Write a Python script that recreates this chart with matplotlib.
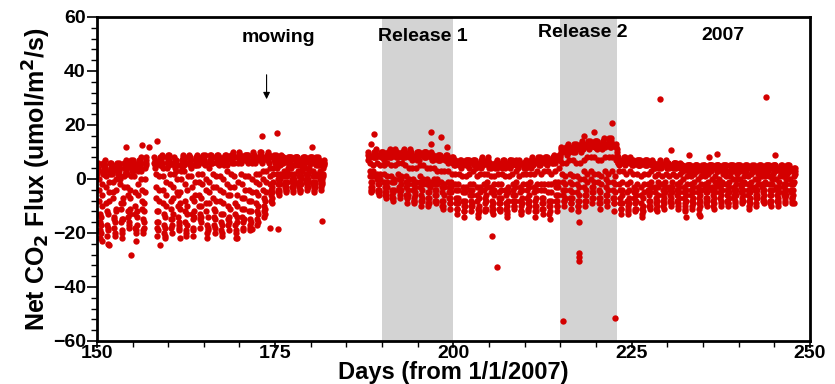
import matplotlib.pyplot as plt
from matplotlib.ticker import MultipleLocator

# hourly samples, hour 0..23 of each day
hours = list(range(24))

# days 150-156
flux_early_june = [
    [3, 5, 2, 4, 6, 3, 0, -4, -8, -13, -16, -19, -22, -20, -17, -14, -10, -6, -2, 2, 5, 3, 6, 4],
    [5, 2, 4, 7, 3, 5, 1, -3, -9, -12, -17, -21, -24, -18, -19, -13, -8, -5, -1, 3, 2, 6, 4, 3],
    [4, 6, 3, 5, 2, 4, -1, -5, -7, -14, -15, -18, -20, -21, -16, -12, -11, -4, 0, 4, 6, 3, 5, 2],
    [2, 4, 6, 3, 5, 1, 0, -2, -9, -11, -16, -20, -19, -22, -15, -15, -9, -7, -3, 1, 4, 6, 2, 5],
    [6, 3, 5, 7, 4, 6, 2, -3, -6, -12, -14, -17, -18, -16, -13, -11, -7, -4, 1, 5, 7, 4, 6, 3],
    [4, 7, 5, 3, 6, 4, 1, -5, -10, -13, -18, -20, -23, -19, -17, -14, -12, -6, -2, 3, 5, 7, 4, 6],
    [7, 5, 4, 6, 8, 3, 0, -4, -8, -11, -15, -19, -20, -18, -16, -12, -9, -5, 0, 4, 6, 8, 5, 7],
]

# days 158-181 (mowing on day 174)
flux_late_june = [
    [6, 8, 5, 7, 4, 6, 2, -3, -7, -12, -16, -18, -21, -19, -16, -12, -8, -4, 1, 5, 7, 6, 8, 5],
    [5, 7, 9, 6, 8, 4, 1, -4, -9, -13, -17, -20, -22, -21, -18, -14, -10, -6, -1, 4, 6, 8, 7, 9],
    [8, 6, 7, 5, 9, 6, 2, -2, -8, -11, -15, -18, -20, -17, -15, -13, -7, -3, 2, 6, 8, 5, 7, 6],
    [4, 6, 5, 7, 3, 5, 0, -5, -6, -10, -14, -17, -19, -18, -16, -11, -9, -5, 0, 3, 5, 7, 4, 6],
    [7, 9, 6, 8, 5, 7, 3, -2, -8, -12, -16, -19, -20, -21, -17, -13, -10, -4, 1, 6, 8, 9, 6, 8],
    [5, 7, 8, 6, 4, 7, 1, -3, -7, -13, -15, -18, -21, -19, -14, -12, -8, -6, -1, 5, 7, 6, 8, 5],
    [8, 6, 9, 7, 5, 8, 2, -1, -6, -10, -13, -15, -18, -16, -14, -10, -7, -2, 2, 7, 6, 9, 8, 7],
    [6, 8, 7, 9, 6, 5, 0, -4, -9, -12, -17, -20, -22, -19, -18, -14, -9, -5, -1, 4, 7, 9, 6, 8],
    [9, 7, 8, 6, 8, 6, 2, -3, -7, -11, -14, -17, -20, -18, -15, -12, -8, -3, 1, 6, 9, 7, 8, 6],
    [6, 9, 7, 8, 5, 7, 1, -4, -8, -13, -16, -19, -21, -20, -17, -13, -9, -5, 0, 5, 8, 6, 9, 7],
    [8, 7, 9, 6, 7, 5, 3, -2, -6, -10, -15, -17, -19, -16, -14, -11, -6, -3, 2, 7, 8, 9, 6, 8],
    [7, 9, 8, 10, 6, 8, 1, -3, -9, -13, -17, -20, -22, -19, -16, -14, -10, -6, -1, 6, 8, 7, 9, 10],
    [9, 8, 7, 9, 8, 6, 2, -2, -7, -11, -14, -16, -19, -18, -15, -11, -7, -4, 1, 7, 9, 8, 7, 9],
    [7, 9, 8, 7, 9, 6, 1, -4, -8, -12, -15, -18, -19, -17, -16, -12, -8, -5, 0, 6, 8, 10, 7, 8],
    [8, 7, 9, 8, 6, 7, 2, -1, -5, -9, -12, -15, -17, -16, -13, -10, -6, -2, 2, 7, 9, 8, 10, 7],
    [9, 8, 10, 7, 8, 6, 3, 0, -4, -7, -10, -12, -14, -13, -11, -8, -5, -1, 3, 8, 9, 7, 8, 10],
    [7, 9, 8, 9, 6, 8, 4, 1, -2, -4, -6, -8, -9, -7, -5, -3, -1, 2, 4, 8, 7, 9, 8, 6],
    [8, 7, 9, 7, 8, 6, 4, 2, 0, -2, -4, -5, -6, -5, -4, -2, 0, 2, 5, 7, 9, 8, 7, 8],
    [6, 8, 7, 8, 6, 7, 3, 1, -1, -2, -3, -5, -4, -3, -4, -1, 1, 3, 4, 8, 6, 7, 8, 7],
    [7, 6, 8, 7, 5, 8, 4, 2, 0, -1, -3, -4, -5, -3, -2, -1, 0, 2, 5, 7, 8, 6, 7, 8],
    [8, 7, 6, 8, 7, 5, 3, 1, -1, -2, -3, -5, -4, -4, -2, 0, 1, 3, 4, 6, 7, 8, 6, 7],
    [6, 8, 7, 6, 8, 7, 4, 2, 0, -1, -2, -3, -4, -3, -1, 0, 2, 3, 4, 7, 6, 7, 8, 6],
    [7, 6, 8, 7, 6, 8, 3, 1, -1, -2, -4, -3, -5, -3, -2, -1, 1, 2, 5, 8, 7, 6, 7, 8],
    [5, 7, 6, 5, 7, 6, 3, 1, 0, -1, -2, -4, -3, -2, -1, 0, 1, 2, 4, 6, 5, 7, 6],
]

# days 188-199 (release 1: 190-200)
flux_july = [
    [9, 7, 10, 8, 9, 8, 6, 3, 1, -1, -3, -4, -5, -4, -3, -1, 1, 3, 5, 8, 10, 9, 8, 10],
    [8, 10, 9, 11, 8, 9, 6, 2, 0, -2, -4, -5, -6, -5, -4, -2, 0, 2, 5, 9, 8, 10, 9, 8],
    [10, 9, 8, 10, 9, 7, 5, 2, -1, -3, -5, -6, -7, -6, -5, -3, -1, 1, 6, 10, 9, 8, 10, 9],
    [9, 11, 10, 8, 10, 8, 5, 1, -1, -4, -6, -7, -8, -7, -5, -4, -1, 0, 5, 9, 10, 11, 8, 9],
    [10, 8, 9, 10, 8, 9, 6, 2, 0, -3, -4, -6, -7, -5, -4, -2, 0, 1, 6, 8, 10, 9, 10, 8],
    [8, 10, 11, 9, 10, 8, 5, 1, -1, -3, -6, -7, -9, -7, -6, -4, -2, 0, 4, 9, 8, 10, 9, 11],
    [9, 8, 10, 9, 7, 8, 4, 0, -2, -4, -7, -8, -9, -8, -6, -5, -3, -1, 4, 8, 9, 7, 10, 8],
    [10, 9, 8, 10, 9, 7, 5, 1, -1, -3, -6, -8, -10, -8, -7, -4, -2, 0, 5, 9, 10, 8, 9, 10],
    [8, 10, 9, 8, 10, 9, 4, 0, -2, -5, -7, -9, -10, -9, -7, -5, -3, -1, 4, 8, 9, 10, 8, 9],
    [9, 7, 8, 9, 8, 7, 4, 0, -2, -4, -6, -8, -9, -8, -6, -4, -2, 0, 3, 7, 8, 9, 7, 8],
    [8, 9, 7, 8, 9, 8, 3, -1, -3, -5, -8, -10, -11, -10, -8, -6, -3, -2, 3, 8, 7, 8, 9, 7],
    [7, 8, 9, 7, 8, 6, 3, -1, -3, -5, -7, -9, -11, -9, -7, -5, -3, -1, 2, 7, 8, 6, 8, 7],
]

# days 200-214
flux_late_july = [
    [6, 5, 7, 6, 5, 7, 2, -2, -4, -7, -9, -11, -13, -11, -9, -7, -4, -2, 2, 6, 5, 7, 6, 5],
    [5, 7, 6, 4, 6, 5, 1, -3, -5, -8, -10, -12, -14, -12, -10, -8, -5, -3, 1, 5, 7, 6, 5, 7],
    [7, 6, 5, 7, 6, 4, 2, -2, -4, -6, -8, -10, -12, -10, -9, -6, -4, -2, 3, 7, 6, 5, 7, 6],
    [5, 6, 7, 5, 4, 6, 1, -3, -6, -8, -11, -13, -14, -12, -10, -7, -5, -3, 2, 6, 5, 7, 4, 6],
    [6, 8, 6, 5, 7, 6, 2, -2, -4, -7, -9, -11, -12, -11, -8, -6, -3, -1, 2, 5, 7, 6, 8, 5],
    [4, 6, 5, 6, 5, 4, 1, -3, -5, -8, -10, -12, -13, -11, -9, -6, -4, -2, 1, 5, 6, 4, 5, 6],
    [6, 5, 7, 4, 6, 5, 2, -2, -5, -7, -9, -11, -12, -11, -9, -7, -4, -2, 2, 6, 4, 6, 5, 7],
    [5, 7, 5, 6, 4, 6, 1, -4, -6, -9, -11, -13, -14, -12, -10, -8, -5, -3, 1, 5, 6, 5, 7, 4],
    [7, 5, 6, 5, 7, 5, 2, -2, -4, -6, -8, -10, -11, -10, -8, -6, -3, -1, 3, 7, 5, 6, 5, 6],
    [5, 6, 4, 6, 5, 7, 1, -3, -5, -8, -10, -12, -13, -12, -9, -7, -4, -2, 2, 6, 5, 4, 6, 5],
    [4, 6, 5, 7, 6, 4, 2, -2, -4, -7, -9, -11, -12, -10, -8, -6, -3, -1, 2, 5, 7, 6, 4, 6],
    [6, 8, 6, 5, 7, 6, 2, -3, -5, -8, -10, -12, -14, -12, -10, -7, -4, -2, 3, 7, 6, 8, 6, 5],
    [7, 6, 8, 6, 5, 7, 2, -2, -4, -7, -9, -11, -13, -11, -9, -7, -4, -2, 3, 6, 8, 7, 6, 8],
    [6, 7, 5, 8, 6, 7, 3, -2, -5, -8, -10, -13, -15, -12, -10, -8, -5, -2, 2, 7, 6, 7, 8, 6],
    [8, 7, 9, 7, 8, 6, 3, -1, -3, -6, -8, -10, -12, -10, -8, -6, -3, -1, 4, 8, 7, 9, 7, 8],
]

# days 215-222 (release 2)
flux_release2 = [
    [9, 11, 10, 12, 10, 11, 6, 2, -1, -4, -6, -8, -10, -8, -7, -4, -2, 1, 6, 10, 12, 11, 9, 12],
    [11, 10, 13, 11, 12, 10, 7, 2, -1, -4, -7, -9, -11, -9, -7, -5, -2, 1, 7, 12, 10, 13, 11, 12],
    [10, 12, 11, 13, 11, 12, 6, 1, -2, -5, -8, -10, -12, -10, -8, -6, -3, 0, 6, 11, 13, 12, 10, 11],
    [12, 11, 14, 12, 13, 11, 7, 3, 0, -3, -6, -8, -10, -8, -6, -4, -1, 2, 8, 13, 12, 14, 12, 13],
    [11, 13, 12, 14, 12, 13, 8, 3, 0, -3, -5, -7, -9, -7, -5, -3, -1, 2, 8, 12, 14, 13, 12, 14],
    [13, 12, 14, 11, 13, 12, 7, 2, -1, -4, -7, -9, -11, -9, -7, -5, -2, 1, 7, 13, 11, 12, 14, 13],
    [12, 14, 13, 15, 13, 12, 8, 3, 0, -3, -6, -8, -10, -8, -6, -4, -1, 2, 8, 14, 13, 15, 12, 14],
    [14, 13, 15, 14, 12, 13, 8, 3, -1, -4, -7, -9, -12, -9, -7, -5, -2, 1, 7, 13, 12, 11, 10, 9],
]

# days 223-247
flux_august = [
    [7, 6, 8, 6, 7, 5, 3, -2, -4, -7, -9, -11, -13, -11, -9, -6, -4, -1, 3, 7, 6, 8, 7, 6],
    [6, 8, 7, 5, 7, 6, 2, -2, -5, -8, -10, -12, -13, -11, -9, -7, -4, -1, 3, 6, 8, 7, 6, 7],
    [7, 6, 5, 7, 6, 5, 2, -3, -5, -7, -9, -11, -12, -11, -8, -6, -4, -2, 2, 7, 5, 6, 7, 5],
    [5, 7, 6, 5, 6, 7, 1, -3, -6, -9, -11, -13, -14, -12, -10, -7, -5, -2, 2, 6, 7, 5, 6, 7],
    [6, 5, 7, 6, 5, 6, 2, -2, -4, -6, -8, -10, -11, -10, -8, -5, -3, -1, 3, 5, 6, 7, 5, 6],
    [5, 6, 4, 6, 5, 4, 1, -3, -5, -7, -9, -11, -12, -10, -8, -6, -3, -1, 2, 6, 5, 4, 6, 5],
    [6, 7, 5, 4, 6, 5, 1, -2, -4, -6, -8, -10, -11, -9, -7, -5, -3, -1, 2, 5, 7, 6, 5, 4],
    [4, 6, 5, 6, 4, 5, 1, -3, -4, -6, -8, -9, -10, -9, -7, -5, -3, -1, 2, 5, 4, 6, 5, 6],
    [5, 4, 6, 5, 4, 6, 1, -2, -4, -6, -8, -10, -11, -9, -7, -5, -3, -1, 2, 4, 6, 5, 4, 5],
    [4, 5, 3, 5, 4, 3, 0, -3, -5, -7, -9, -11, -12, -10, -8, -6, -4, -2, 1, 5, 4, 3, 5, 4],
    [5, 4, 5, 3, 5, 4, 1, -2, -4, -6, -8, -10, -11, -9, -7, -5, -3, -1, 2, 4, 5, 4, 3, 5],
    [3, 5, 4, 5, 3, 4, 0, -3, -5, -7, -9, -11, -13, -10, -8, -6, -4, -2, 1, 4, 3, 5, 4, 3],
    [4, 3, 5, 4, 5, 3, 1, -2, -3, -5, -7, -9, -10, -8, -7, -5, -3, -1, 2, 5, 4, 3, 5, 4],
    [5, 4, 3, 5, 4, 5, 0, -3, -4, -6, -8, -10, -11, -9, -7, -5, -3, -1, 1, 4, 5, 4, 3, 5],
    [3, 5, 4, 3, 5, 4, 0, -2, -3, -5, -7, -9, -10, -8, -6, -4, -2, -1, 2, 3, 5, 4, 5, 3],
    [4, 3, 5, 4, 3, 5, 1, -2, -4, -6, -8, -9, -10, -9, -7, -5, -3, -1, 1, 5, 3, 4, 3, 5],
    [5, 4, 3, 4, 5, 3, 0, -3, -4, -6, -7, -9, -10, -8, -6, -4, -2, 0, 2, 4, 5, 3, 4, 5],
    [3, 4, 5, 3, 4, 5, 0, -2, -3, -5, -7, -8, -9, -8, -6, -4, -2, -1, 1, 3, 4, 5, 3, 4],
    [4, 5, 3, 4, 5, 4, 1, -2, -4, -6, -8, -10, -11, -9, -7, -5, -3, -1, 2, 4, 3, 4, 5, 3],
    [3, 4, 4, 5, 3, 4, 0, -3, -4, -6, -7, -9, -10, -7, -6, -4, -2, 0, 2, 5, 4, 3, 4, 5],
    [4, 3, 5, 3, 4, 3, 1, -2, -3, -5, -7, -8, -9, -8, -6, -4, -2, -1, 1, 3, 4, 5, 3, 4],
    [5, 4, 3, 5, 4, 5, 1, -2, -4, -6, -8, -9, -10, -8, -6, -4, -2, 0, 2, 4, 5, 4, 5, 3],
    [3, 5, 4, 3, 5, 4, 0, -3, -4, -6, -8, -9, -10, -8, -7, -5, -3, -1, 1, 4, 3, 5, 4, 3],
    [4, 3, 5, 4, 3, 4, 1, -2, -3, -5, -6, -8, -9, -7, -6, -4, -2, 0, 2, 5, 4, 3, 4, 5],
    [3, 4, 3, 5, 4, 3, 0, -2, -4, -5, -7, -8, -9, -7, -6, -4, -2, -1, 1, 3, 4, 2, 3, 4],
]

segment_start = [150, 158, 188, 200, 215, 223]
segments = [flux_early_june, flux_late_june, flux_july,
            flux_late_july, flux_release2, flux_august]

# isolated points
outlier_day = [150.7, 151.7, 154.8, 158.8, 161.6, 169.6, 171.7, 174.3, 175.4,
               154.1, 156.3, 157.3, 158.4, 173.1, 175.2, 180.2, 181.6,
               188.8, 188.4, 196.8, 198.2, 196.8, 199.1, 205.4, 206.1,
               215.4, 222.6, 217.6, 217.6, 217.6, 217.6, 222.2, 219.7, 218.3,
               229.0, 243.8, 230.5, 233.0, 235.8, 237.0, 245.1, 247.8, 232.6, 234.6]
outlier_flux = [-23, -24.5, -28, -24.5, -22, -22, -18.5, -18, -18.5,
                12, 12.6, 12, 14, 16, 17, 12, -15.5,
                16.7, 13, 17.4, 15.6, 13, 12, -21, -32.6,
                -52.6, -51.5, -27.5, -29, -30.5, -16, 20.7, 17.4, 16,
                29.6, 30.4, 10.7, 8.9, 8, 9.2, 8.9, -8.9, -14, -13.7]

release_periods = [(190, 200), (215, 223)]


def flatten(start, rows):
    days, flux = [], []
    for i, row in enumerate(rows):
        for h, v in zip(hours, row):
            days.append(start + i + h / 24.0)
            flux.append(v)
    return days, flux


def main():
    plt.rcParams['font.family'] = ['Liberation Sans', 'DejaVu Sans']
    plt.rcParams['font.weight'] = 'bold'

    fig = plt.figure(figsize=(8.35, 3.84), dpi=100)
    ax = fig.add_axes([0.116, 0.112, 0.854, 0.844])

    for lo, hi in release_periods:
        ax.axvspan(lo, hi, color='#d3d3d3', lw=0, zorder=0)

    all_days, all_flux = [], []
    for start, rows in zip(segment_start, segments):
        d, f = flatten(start, rows)
        all_days += d
        all_flux += f
    all_days += outlier_day
    all_flux += outlier_flux

    ax.scatter(all_days, all_flux, s=21, color='#d40000', linewidths=0, zorder=2)

    ax.set_xlim(150, 250)
    ax.set_ylim(-60, 60)
    ax.xaxis.set_major_locator(MultipleLocator(25))
    ax.xaxis.set_minor_locator(MultipleLocator(5))
    ax.yaxis.set_major_locator(MultipleLocator(20))
    ax.yaxis.set_minor_locator(MultipleLocator(4))
    ax.tick_params(axis='y', which='major', length=7, width=1.2, labelsize=14, pad=1)
    ax.tick_params(axis='x', which='major', length=5, width=1.2, labelsize=14, pad=-2)
    ax.tick_params(which='minor', length=4, width=1)
    for sp in ax.spines.values():
        sp.set_linewidth(2)

    ax.set_xlabel('Days (from 1/1/2007)', fontsize=17, fontweight='bold', labelpad=-1)
    ax.set_ylabel('Net CO$_2$ Flux (umol/m$^2$/s)', fontsize=18, fontweight='bold', labelpad=0)

    ax.text(175.4, 52.2, 'mowing', ha='center', va='center', fontsize=14, fontweight='bold')
    ax.text(195.7, 52.6, 'Release 1', ha='center', va='center', fontsize=14, fontweight='bold')
    ax.text(218.2, 54.4, 'Release 2', ha='center', va='center', fontsize=14, fontweight='bold')
    ax.text(237.8, 53.0, '2007', ha='center', va='center', fontsize=14, fontweight='bold')
    ax.annotate('', xy=(173.8, 28.5), xytext=(173.8, 39.6),
                arrowprops=dict(arrowstyle='-|>', color='black', lw=0.8, mutation_scale=10))

    fig.savefig('out.png', dpi=100)


if __name__ == "__main__":
    main()
